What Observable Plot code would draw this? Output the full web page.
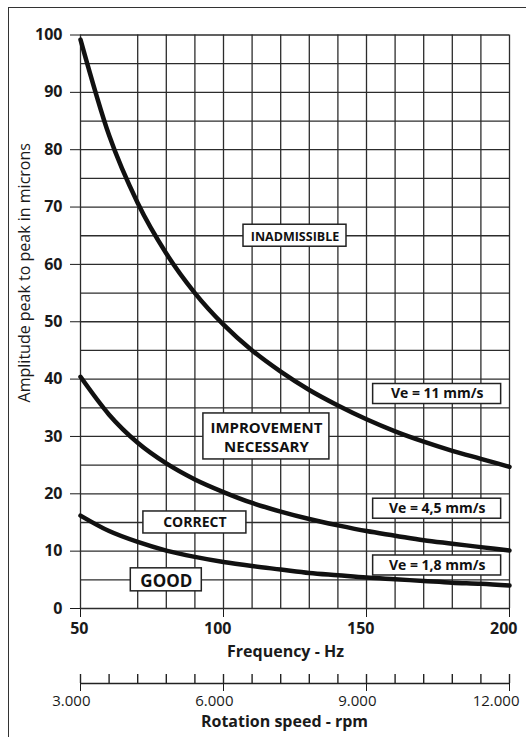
<!DOCTYPE html>
<html><head><meta charset="utf-8">
<script src="https://cdn.jsdelivr.net/npm/d3@7"></script>
<script src="https://cdn.jsdelivr.net/npm/@observablehq/plot@0.6"></script>
<style>
body{margin:0;background:#fff;}
#wrap{position:relative;width:526px;height:737px;overflow:hidden;background:#fff;}
#frame{position:absolute;left:8px;top:7px;width:700px;height:800px;border-left:1.6px solid #333;border-top:1.6px solid #333;}
#main{position:absolute;left:0;top:0;}
#rpm{position:absolute;left:0;top:665px;}
g[aria-label="ve-label"] text{letter-spacing:0.9px}
g[aria-label="correct-label"] text{letter-spacing:1px}
g[aria-label="zone-label"] text{letter-spacing:0.3px}
g[aria-label="y-title"] text{letter-spacing:0.4px}
g[aria-label="x-title"] text{letter-spacing:0.5px}
</style></head><body>
<div id="wrap"><div id="frame"></div><div id="main"></div><div id="rpm"></div></div>
<script>
// ---- data ----
const freq  = [50, 60, 70, 80, 90, 100, 110, 120, 130, 140, 150, 160, 170, 180, 190, 200];
const amp11 = [99.2, 82.5, 70.7, 61.9, 55.0, 49.5, 45.0, 41.3, 38.1, 35.4, 33.0, 30.9, 29.1, 27.5, 26.1, 24.7];
const amp45 = [40.4, 33.8, 28.9, 25.3, 22.5, 20.3, 18.4, 16.9, 15.6, 14.5, 13.5, 12.7, 11.9, 11.3, 10.7, 10.1];
const amp18 = [16.2, 13.5, 11.6, 10.1, 9.0, 8.1, 7.4, 6.8, 6.2, 5.8, 5.4, 5.1, 4.8, 4.5, 4.3, 4.0];
const curveNames = ["Ve = 11 mm/s", "Ve = 4,5 mm/s", "Ve = 1,8 mm/s"];

const yTicks = [0, 10, 20, 30, 40, 50, 60, 70, 80, 90, 100];
const xTicks = [50, 100, 150, 200];
const gridAmp = [0, 5, 10, 15, 20, 25, 30, 35, 40, 45, 50, 55, 60, 65, 70, 75, 80, 85, 90, 95, 100];
const gridFreq = [50, 70, 80, 90, 100, 110, 120, 130, 140, 150, 160, 170, 180, 190, 200];

const rpmMinor = [3000, 3600, 4200, 4800, 5400, 6000, 6600, 7200, 7800, 8400, 9000, 9600, 10200, 10800, 11400, 12000];
const rpmMajor = [3000, 6000, 9000, 12000];

const zoneText = ["INADMISSIBLE", "IMPROVEMENT\nNECESSARY", "CORRECT", "GOOD"];
const zoneFreq = [125, 115, 90, 80];
const zoneAmp  = [65, 30, 15, 5];
const veFreq = [174.7, 174.7, 174.7];
const veAmp  = [37.4, 17.4, 7.5];

const yTitle = "Amplitude peak to peak in microns";
const xTitle = "Frequency - Hz";
const rpmTitle = "Rotation speed - rpm";

// ---- layout ----
const W = 526, H1 = 665, ML = 80, MR = 17, MT = 34.5, MB = 57;
const kx = (W - ML - MR) / 150;          // px per Hz
const ky = (H1 - MT - MB) / 100;         // px per micron
const zoneBoxW = [103, 126, 103, 71], zoneBoxH = [22, 46, 22, 23];
const zoneFont = [12.5, 15, 14, 17];
const veBoxW = 128, veBoxH = 20;

const rows = freq.flatMap((f, i) => [
  {f, a: amp11[i], s: curveNames[0]},
  {f, a: amp45[i], s: curveNames[1]},
  {f, a: amp18[i], s: curveNames[2]}
]);
const zones = zoneText.map((t, i) => ({t, f: zoneFreq[i], a: zoneAmp[i], w: zoneBoxW[i], h: zoneBoxH[i], fs: zoneFont[i]}));
const ves = curveNames.map((t, i) => ({t, f: veFreq[i], a: veAmp[i], w: veBoxW, h: veBoxH}));
const boxes = [...zones, ...ves];

const font = "'Open Sans', 'Noto Sans', sans-serif";
const gridStroke = "#2c2c2c";
const ink = "#1a1a1a";

const main = Plot.plot({
  width: W, height: H1,
  marginLeft: ML, marginRight: MR, marginTop: MT, marginBottom: MB,
  style: {fontFamily: font, fontSize: "16px", fontWeight: "bold", color: ink, background: "transparent"},
  x: {domain: [50, 200], ticks: xTicks, tickSize: 9, tickPadding: 5, label: null, tickFormat: () => ""},
  y: {domain: [0, 100], ticks: yTicks, tickSize: 10, tickPadding: 8, label: null, tickFormat: d => String(d)},
  marks: [
    Plot.ruleY(gridAmp, {stroke: gridStroke, strokeWidth: 1.3}),
    Plot.ruleX(gridFreq, {stroke: gridStroke, strokeWidth: 1.3}),
    Plot.line(rows, {x: "f", y: "a", z: "s", curve: "monotone-x", stroke: "#111", strokeWidth: 4.5}),
    Plot.rect(boxes, {
      x1: d => d.f - d.w / 2 / kx, x2: d => d.f + d.w / 2 / kx,
      y1: d => d.a - d.h / 2 / ky, y2: d => d.a + d.h / 2 / ky,
      fill: "white", stroke: "#222", strokeWidth: 1.5
    }),
    Plot.text(zones.filter(d => d.t !== "CORRECT"), {x: "f", y: "a", text: "t", fontSize: d => d.fs, fontWeight: "bold", fill: "#111", lineHeight: 1.25, ariaLabel: "zone-label"}),
    Plot.text(zones.filter(d => d.t === "CORRECT"), {x: "f", y: "a", text: "t", fontSize: 14, fontWeight: "bold", fill: "#111", ariaLabel: "correct-label"}),
    Plot.text(ves, {x: "f", y: "a", text: "t", fontSize: 14, fontWeight: "bold", fill: "#111", ariaLabel: "ve-label"}),
    Plot.text(xTicks, {x: d => d, text: d => String(d), frameAnchor: "bottom", lineAnchor: "middle", textAnchor: "end", dx: 8, dy: 20, fontSize: 16, fontWeight: "bold", fill: ink}),
    Plot.text([yTitle], {frameAnchor: "left", textAnchor: "middle", lineAnchor: "middle", dx: -56, dy: -49, rotate: -90, fontSize: 16, fontWeight: "normal", fill: ink, ariaLabel: "y-title"}),
    Plot.text([xTitle], {frameAnchor: "bottom", textAnchor: "middle", lineAnchor: "middle", dx: -9.5, dy: 43, fontSize: 16, fontWeight: "bold", fill: ink, ariaLabel: "x-title"})
  ]
});
document.getElementById("main").appendChild(main);

const dotFmt = d3.formatLocale({decimal: ",", thousands: ".", grouping: [3]}).format(",");
const rpm = Plot.plot({
  width: W, height: 72,
  marginLeft: ML, marginRight: MR, marginTop: 9, marginBottom: 54,
  style: {fontFamily: font, fontSize: "15px", fontWeight: "normal", color: ink, background: "transparent"},
  x: {domain: [3000, 12000], ticks: rpmMajor, tickSize: 8, tickPadding: 5, label: null, tickFormat: () => ""},
  y: {domain: [0, 1], axis: null},
  marks: [
    Plot.ruleY([0], {stroke: "#222", strokeWidth: 1.4}),
    Plot.tickX(rpmMinor, {x: d => d, stroke: "#222", strokeWidth: 1.4}),
    Plot.text(rpmMajor, {x: d => d, text: d => dotFmt(d), frameAnchor: "bottom", lineAnchor: "middle", textAnchor: "end", dx: 10, dy: 18, fontSize: 15, fontWeight: "normal", fill: ink}),
    Plot.text([rpmTitle], {frameAnchor: "bottom", textAnchor: "middle", lineAnchor: "middle", dx: -10.5, dy: 38.5, fontSize: 16, fontWeight: "bold", fill: ink, ariaLabel: "x-title"})
  ]
});
document.getElementById("rpm").appendChild(rpm);
</script>
</body></html>
